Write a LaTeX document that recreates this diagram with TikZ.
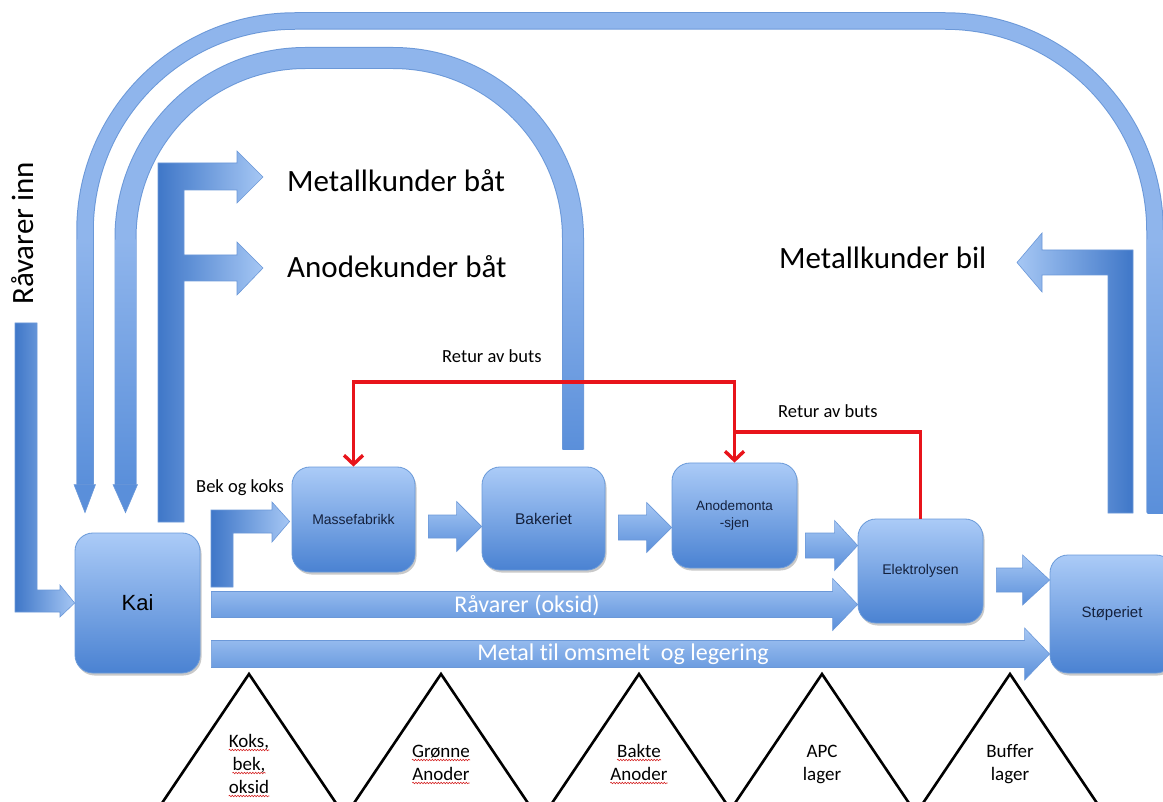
\documentclass[tikz,border=0pt]{standalone}
\usepackage{fontspec}
\setmainfont{Carlito}[Ligatures=NoCommon]
\newfontfamily\arialfont{Liberation Sans}
\usetikzlibrary{arrows.meta,calc,shadows,decorations.pathmorphing}

\definecolor{bandfill}{HTML}{8FB5EC}
\definecolor{bandedge}{HTML}{6B98D8}
\definecolor{deepblue}{HTML}{3F77C8}
\definecolor{midblue}{HTML}{5A8FDA}
\definecolor{paleblue}{HTML}{A6C7F4}
\definecolor{boxtop}{HTML}{ABCBF7}
\definecolor{boxbot}{HTML}{4A82D2}
\definecolor{boxedge}{HTML}{6A9AD9}
\definecolor{navy}{HTML}{14213D}
\definecolor{butsred}{HTML}{E8141B}
\definecolor{spellred}{HTML}{D42020}

% horizontal block arrow: [style] {tail} {tip} {half shaft} {half head} {head length}
\newcommand\blockarrow[6][]{%
  \path[arrowbody,#1] let \p1=#2, \p2=#3 in
    (\x1,\y2+#4) -- (\x2-#6,\y2+#4) -- (\x2-#6,\y2+#5) -- (\x2,\y2)
    -- (\x2-#6,\y2-#5) -- (\x2-#6,\y2-#4) -- (\x1,\y2-#4) -- cycle;}

% storage triangle with apex at (#1,674)
\newcommand\storetri[1]{%
  \draw[tri] (#1-93,812) -- (#1,674) -- (#1+93,812);}

\tikzset{
  box/.style={rounded corners=18pt, top color=boxtop, bottom color=boxbot,
    draw=boxedge, line width=0.8pt, text=navy, align=center,
    font=\arialfont\fontsize{14}{17}\selectfont,
    drop shadow={shadow xshift=1.5pt, shadow yshift=-2.5pt, opacity=0.3, fill=black!70}},
  arrowbody/.style={top color=paleblue, bottom color=midblue, draw=bandedge, line width=0.6pt},
  darkleft/.style={left color=deepblue, right color=paleblue, draw=bandedge, line width=0.6pt},
  darkright/.style={left color=paleblue, right color=deepblue, draw=bandedge, line width=0.6pt},
  bigtext/.style={inner sep=0pt, font=\fontsize{31}{36}\selectfont},
  smalltext/.style={inner sep=0pt, font=\fontsize{18.5}{22}\selectfont},
  flowtext/.style={inner sep=0pt, text=white, font=\fontsize{24}{28}\selectfont},
  tritext/.style={inner sep=0pt, anchor=base, font=\fontsize{19}{22}\selectfont},
  butsline/.style={draw=butsred, line width=3.4pt},
  butstip/.style={{Straight Barb[length=9pt,width=19pt]}-{Straight Barb[length=9pt,width=19pt]}},
  tri/.style={draw=black, line width=2.6pt, line join=miter},
  spell/.style={draw=spellred, line width=0.55pt, decorate,
    decoration={snake, amplitude=0.8pt, segment length=2.8pt}},
}

\begin{document}
\begin{tikzpicture}[x=1pt,y=-1pt]
\useasboundingbox (0,0) rectangle (1163,802);
\clip (0,0) rectangle (1163,802);

% ---------- process boxes ----------
\node[box, minimum width=125pt, minimum height=140pt, text=black,
      font=\arialfont\fontsize{22}{26}\selectfont] (kai) at (137.5,603) {Kai};
\node[box, minimum width=123pt, minimum height=105pt] (mf) at (353.5,519.5) {Massefabrikk};
\node[box, minimum width=123pt, minimum height=103pt,
      font=\arialfont\fontsize{15.5}{18}\selectfont] (bk) at (543.5,518.5) {Bakeriet};
\node[box, minimum width=125pt, minimum height=105pt,
      font=\arialfont\fontsize{13.5}{17}\selectfont] (am) at (734.5,515.5) {Anodemonta\\-sjen};
\node[box, minimum width=125pt, minimum height=104pt] (el) at (920.5,571) {Elektrolysen};
\node[box, minimum width=124pt, minimum height=118pt,
      font=\arialfont\fontsize{15}{18}\selectfont] (st) at (1112,614) {Støperiet};

% ---------- wide return bands ----------
\coordinate (ibS) at ($(bk.north)+(29.5,-17)$);
\coordinate (ibE) at ($(kai.north)+(-12,-48)$);
\coordinate (ibT) at ($(kai.north)+(-12,-20)$);
\coordinate (ibTop) at (0,58);
\coordinate (obS) at ($(st.north)+(43,-42)$);
\coordinate (obE) at ($(kai.north)+(-52.5,-48)$);
\coordinate (obT) at ($(kai.north)+(-52.5,-20)$);
\coordinate (obTop) at (0,21);

\draw[bandedge, line width=17.5pt, rounded corners=210pt]
  (obS) -- (obS |- obTop) -- (obE |- obTop) -- (obE);
\draw[bandfill, line width=15.5pt, rounded corners=210pt]
  (obS) -- (obS |- obTop) -- (obE |- obTop) -- (obE);
\draw[bandedge, line width=22pt, rounded corners=180pt]
  (ibS) -- (ibS |- ibTop) -- (ibE |- ibTop) -- (ibE);
\draw[bandfill, line width=20pt, rounded corners=180pt]
  (ibS) -- (ibS |- ibTop) -- (ibE |- ibTop) -- (ibE);

% darker lower ends of the bands
\shade[top color=bandfill, bottom color=midblue] (77.25,240) rectangle (92.75,485.3);
\shade[top color=bandfill, bottom color=midblue] (115.5,240) rectangle (135.5,485.3);
\shade[top color=bandfill, bottom color=midblue] (563,240) rectangle (583,450);
\shade[top color=bandfill, bottom color=midblue] (1147.25,240) rectangle (1162.75,513);

% heads into Kai
\fill[midblue, draw=bandedge, line width=0.6pt]
  ($(obE)+(-11,0)$) -- ($(obE)+(10.5,0)$) -- (obT) -- cycle;
\fill[midblue, draw=bandedge, line width=0.6pt]
  ($(ibE)+(-12.5,0)$) -- ($(ibE)+(12,0)$) -- (ibT) -- cycle;

% ---------- bent arrows ----------
% raw materials in
\path[darkleft] (15,323) -- (15,612) -- (60,612) -- (60,617) -- (kai.west) -- (60,585)
  -- (60,590) -- (37,590) -- (37,323) -- cycle;
% customers by boat
\path[darkleft] (158,522) -- (158,163) -- (237,163) -- (237,151) -- (263,177) -- (237,203)
  -- (237,190) -- (184,190) -- (184,255) -- (237,255) -- (237,242) -- (263,268)
  -- (237,295) -- (237,281) -- (184,281) -- (184,522) -- cycle;
% pitch and coke
\path[darkleft] (211,587) -- (211,510) -- (272,510) -- (272,502) -- ($(mf.west)+(-2,2)$)
  -- (272,542) -- (272,533) -- (233,533) -- (233,587) -- cycle;
% metal customers by truck
\path[darkright] (1133,513) -- (1133,250) -- (1042,250) -- (1042,233) -- (1017,262.5)
  -- (1042,292) -- (1042,275) -- (1108,275) -- (1108,513) -- cycle;

% ---------- straight flow arrows ----------
\blockarrow{($(mf.east)+(13,0)$)}{($(bk.west)+(0,8)$)}{11.5pt}{25pt}{25pt}
\blockarrow{($(bk.east)+(13,0)$)}{($(am.west)+(0,12)$)}{12.5pt}{25pt}{25pt}
\blockarrow{($(am.east)+(8,0)$)}{($(el.west)+(0,-25.5)$)}{12.5pt}{25pt}{23pt}
\blockarrow{($(el.east)+(13,0)$)}{($(st.west)+(0,-34)$)}{12pt}{25pt}{27pt}
\blockarrow{($(kai.east)+(11,0)$)}{($(el.west)+(0,33.5)$)}{13pt}{26pt}{25pt}
\blockarrow{($(kai.east)+(11,0)$)}{($(st.west)+(0,40)$)}{13.5pt}{26pt}{25pt}

\node[flowtext] (rox) at (527,605) {Råvarer (oksid)};
\node[flowtext] (mto) at (623,654) {Metal til omsmelt~ og legering};

% ---------- butt returns ----------
\coordinate (rt) at (0,382);
\coordinate (rm) at (0,432);
\draw[butsline, butstip]
  (mf.north) -- (mf.north |- rt) -| (am.north);
\draw[butsline] (el.north) -- (el.north |- rm) -- (am.north |- rm);

\node[smalltext, anchor=base west] (rb1) at (442,363) {Retur av buts};
\node[smalltext, anchor=base west] (rb2) at (778,418) {Retur av buts};
\node[smalltext, anchor=base west] (bok) at (196,492) {Bek og koks};

% ---------- large labels ----------
\node[bigtext, anchor=base west] (mkb) at (287,192) {Metallkunder båt};
\node[bigtext, anchor=base west] (akb) at (287,278) {Anodekunder båt};
\node[bigtext, anchor=base west] (mkbil) at (779,269) {Metallkunder bil};
\node[bigtext, anchor=base west, rotate=90] (rinn) at (33,305) {Råvarer inn};

% ---------- storage triangles ----------
\storetri{249}
\storetri{441}
\storetri{639}
\storetri{822}
\storetri{1010}

\node[tritext] (t1a) at (249,747) {Koks,};
\node[tritext] (t1b) at (249,770) {bek,};
\node[tritext] (t1c) at (249,793) {oksid};
\node[tritext] (t2a) at (441,757) {Grønne};
\node[tritext] (t2b) at (441,780) {Anoder};
\node[tritext] (t3a) at (639,757) {Bakte};
\node[tritext] (t3b) at (639,780) {Anoder};
\node[tritext] (t4a) at (822,757) {APC};
\node[tritext] (t4b) at (822,780) {lager};
\node[tritext] (t5a) at (1010,757) {Buffer};
\node[tritext] (t5b) at (1010,780) {lager};

\foreach \w in {t1a,t1b,t1c,t2a,t2b,t3a,t3b}
  \draw[spell] ([yshift=-3pt]\w.base west) -- ([yshift=-3pt]\w.base east);

\end{tikzpicture}
\end{document}
